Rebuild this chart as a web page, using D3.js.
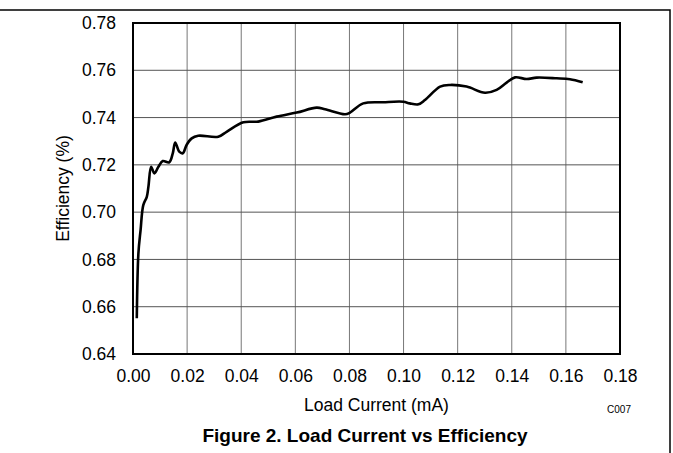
<!DOCTYPE html>
<html>
<head>
<meta charset="utf-8">
<script src="https://cdnjs.cloudflare.com/ajax/libs/d3/7.8.5/d3.min.js"></script>
<style>
  body { margin: 0; background: #fff; }
  svg text { font-family: "Liberation Sans", Arial, sans-serif; fill: #000; }
</style>
</head>
<body>
<div id="chart"></div>
<script>
// load current (mA) vs efficiency
var current = [0.0014, 0.0020, 0.0028, 0.0038, 0.0051, 0.0057, 0.0067, 0.0079, 0.0094, 0.0110,
  0.0134, 0.0147, 0.0156, 0.0171, 0.0184, 0.0198, 0.0217, 0.0241, 0.0315, 0.0346,
  0.0408, 0.0463, 0.0531, 0.0605, 0.0679, 0.0710, 0.0784, 0.0802, 0.0851, 0.0925,
  0.0999, 0.1023, 0.1055, 0.1079, 0.1135, 0.1172, 0.1233, 0.1301, 0.1344, 0.1381,
  0.1412, 0.1455, 0.1492, 0.1566, 0.1615, 0.1662];
var efficiency = [0.6551, 0.6826, 0.6924, 0.7030, 0.7065, 0.7108, 0.7192, 0.7164, 0.7192, 0.7216,
  0.7211, 0.7249, 0.7294, 0.7256, 0.7249, 0.7284, 0.7312, 0.7323, 0.7319, 0.7340,
  0.7380, 0.7383, 0.7404, 0.7421, 0.7442, 0.7435, 0.7414, 0.7421, 0.7460, 0.7465,
  0.7467, 0.7460, 0.7456, 0.7474, 0.7531, 0.7538, 0.7531, 0.7505, 0.7517, 0.7548,
  0.7570, 0.7563, 0.7569, 0.7566, 0.7562, 0.7549];
var xTicks = [0, 0.02, 0.04, 0.06, 0.08, 0.10, 0.12, 0.14, 0.16, 0.18];
var yTicks = [0.64, 0.66, 0.68, 0.70, 0.72, 0.74, 0.76, 0.78];

var width = 673, height = 453;
var margin = {top: 23, right: 53, bottom: 99, left: 133};

var svg = d3.select("#chart").append("svg")
  .attr("width", width)
  .attr("height", height);

// page frame (top and right edge only)
svg.append("path")
  .attr("d", "M0,10H670V" + height)
  .attr("fill", "none")
  .attr("stroke", "#000")
  .attr("stroke-width", 1.5);

var x = d3.scaleLinear().domain([0, 0.18]).range([margin.left, width - margin.right]);
var y = d3.scaleLinear().domain([0.64, 0.78]).range([height - margin.bottom, margin.top]);

// grid
svg.append("g").selectAll("line")
  .data(xTicks.slice(1, -1))
  .enter().append("line")
  .attr("x1", function(d){ return x(d); })
  .attr("x2", function(d){ return x(d); })
  .attr("y1", y(0.64)).attr("y2", y(0.78))
  .attr("stroke", "#777").attr("stroke-width", 1);
svg.append("g").selectAll("line")
  .data(yTicks.slice(1, -1))
  .enter().append("line")
  .attr("y1", function(d){ return y(d); })
  .attr("y2", function(d){ return y(d); })
  .attr("x1", x(0)).attr("x2", x(0.18))
  .attr("stroke", "#555").attr("stroke-width", 1);

// axes labels
var xAxis = d3.axisBottom(x).tickValues(xTicks).tickFormat(d3.format(".2f")).tickSize(0).tickPadding(16);
var yAxis = d3.axisLeft(y).tickValues(yTicks).tickFormat(d3.format(".2f")).tickSize(0).tickPadding(17);

svg.append("g")
  .attr("transform", "translate(0," + y(0.64) + ")")
  .call(xAxis)
  .call(function(g){ g.select(".domain").remove(); })
  .selectAll("text").style("font-size", "17.5px").attr("font-family", null);
svg.append("g")
  .attr("transform", "translate(" + x(0) + ",0)")
  .call(yAxis)
  .call(function(g){ g.select(".domain").remove(); })
  .selectAll("text").style("font-size", "17.5px").attr("font-family", null);

// plot border
svg.append("rect")
  .attr("x", x(0)).attr("y", y(0.78))
  .attr("width", x(0.18) - x(0))
  .attr("height", y(0.64) - y(0.78))
  .attr("fill", "none")
  .attr("stroke", "#000")
  .attr("stroke-width", 2);

// curve
var line = d3.line()
  .x(function(d, i){ return x(current[i]); })
  .y(function(d, i){ return y(efficiency[i]); })
  .curve(d3.curveCatmullRom.alpha(0.5));

svg.append("path")
  .datum(efficiency)
  .attr("d", line)
  .attr("fill", "none")
  .attr("stroke", "#000")
  .attr("stroke-width", 2.6)
  .attr("stroke-linejoin", "round");

// titles
svg.append("text")
  .attr("x", (x(0) + x(0.18)) / 2)
  .attr("y", 411)
  .attr("text-anchor", "middle")
  .style("font-size", "17.5px")
  .text("Load Current (mA)");

svg.append("text")
  .attr("transform", "translate(69," + (y(0.64) + y(0.78)) / 2 + ") rotate(-90)")
  .attr("text-anchor", "middle")
  .style("font-size", "17.5px")
  .text("Efficiency (%)");

svg.append("text")
  .attr("x", 619)
  .attr("y", 413)
  .attr("text-anchor", "middle")
  .style("font-size", "10px")
  .text("C007");

svg.append("text")
  .attr("x", 365)
  .attr("y", 442)
  .attr("text-anchor", "middle")
  .style("font-size", "19px")
  .style("font-weight", "bold")
  .text("Figure 2. Load Current vs Efficiency");
</script>
</body>
</html>
